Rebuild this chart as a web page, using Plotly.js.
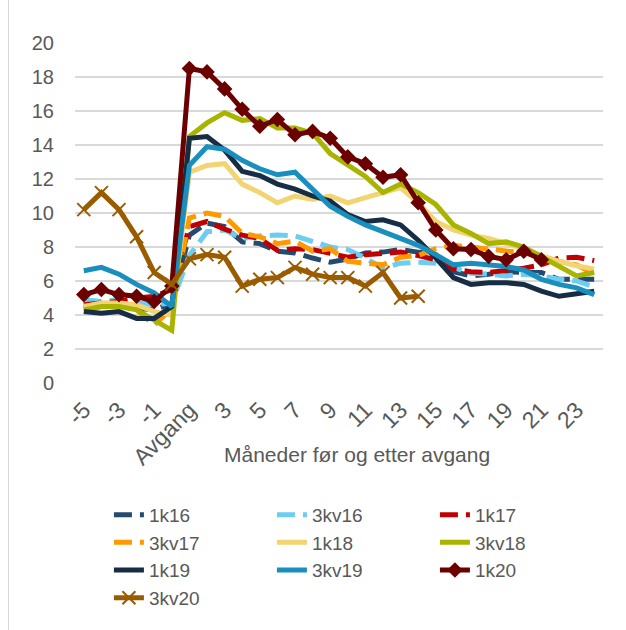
<!DOCTYPE html>
<html>
<head>
<meta charset="utf-8">
<script src="https://cdn.plot.ly/plotly-3.0.1.min.js"></script>
<style>
  html, body { margin: 0; padding: 0; background: #ffffff; }
  #frame { position: absolute; left: 8px; top: -2px; width: 626px; height: 640px; border-left: 1px solid #d9d9d9; }
  #chart { position: absolute; left: 0; top: 0; width: 626px; height: 630px; }
</style>
</head>
<body>
<div id="frame"></div>
<div id="chart"></div>
<script>
// Categories: months before and after departure ("Avgang")
const months = ["-5","-4","-3","-2","-1","0","Avgang","2","3","4","5","6","7","8","9","10",
                "11","12","13","14","15","16","17","18","19","20","21","22","23","24"];
const tickLabels = ["-5","-3","-1","Avgang","3","5","7","9","11","13","15","17","19","21","23"];

const seriesNames = ["1k16","3kv16","1k17","3kv17","1k18","3kv18","1k19","3kv19","1k20","3kv20"];

const k1_16  = [4.4,4.5,4.6,4.4,4.3,4.7, 8.7,9.4,9.2,8.3,8.2,7.75,7.65,7.35,7.1,7.3,7.65,7.7,7.85,7.7,7.55, 6.55,6.3,6.4,6.55,6.5,6.5,6.1,6.1,6.1];
const kv3_16 = [4.9,4.8,4.9,4.7,4.6,4.7, 7.5,8.9,9.0,8.5,8.65,8.7,8.65,8.3,8.0,7.85,7.35,6.75,7.05,7.1,7.05, 6.8,6.45,6.4,6.3,6.4,6.3,6.1,6.0,5.65];
const k1_17  = [4.6,4.7,4.8,5.0,5.1,5.5, 9.2,9.5,9.05,8.7,8.5,7.8,7.9,7.85,7.65,7.4,7.55,7.65,7.7,7.5,7.25, 6.7,6.55,6.5,6.6,6.75,6.95,7.35,7.4,7.2];
const kv3_17 = [4.5,4.6,4.6,4.3,3.4,4.4, 9.7,10.0,9.8,8.8,8.6,8.2,8.35,7.75,7.9,7.15,7.05,6.95,7.4,7.5,7.9, 8.1,8.0,7.9,7.8,7.65,7.45,7.15,6.95,6.4];
const k1_18  = [4.5,4.7,4.7,4.6,4.2,4.0, 12.4,12.8,12.9,11.7,11.2,10.6,11.0,10.8,11.0,10.6,10.9,11.2,11.5,10.6,9.5, 9.0,8.7,8.5,8.2,7.9,7.5,7.15,6.9,6.7];
const kv3_18 = [4.3,4.5,4.5,4.3,3.7,3.1, 14.5,15.3,15.9,15.45,15.55,15.0,15.0,14.7,13.5,12.85,12.15,11.2,11.7,11.2,10.5, 9.3,8.8,8.2,8.3,8.0,7.45,6.9,6.3,6.5];
const k1_19  = [4.2,4.1,4.2,3.8,3.8,4.5, 14.4,14.5,13.7,12.45,12.2,11.7,11.4,11.0,10.7,9.9,9.5,9.6,9.3,8.4,7.35, 6.2,5.8,5.9,5.9,5.8,5.4,5.1,5.25,5.4];
const kv3_19 = [6.6,6.8,6.4,5.8,5.3,4.5, 12.8,13.9,13.75,13.1,12.6,12.25,12.4,11.4,10.4,9.8,9.3,8.9,8.5,8.1,7.55, 6.95,7.05,6.95,6.85,6.65,6.1,5.8,5.6,5.2];
const k1_20  = [5.2,5.5,5.2,5.1,4.8,5.7, 18.5,18.3,17.3,16.1,15.1,15.5,14.6,14.8,14.4,13.3,12.9,12.1,12.25,10.6,9.0, 7.9,7.85,7.45,7.25,7.75,7.25];
const kv3_20 = [10.2,11.2,10.2,8.6,6.5,5.8, 7.3,7.55,7.4,5.7,6.1,6.2,6.8,6.4,6.2,6.2,5.7,6.5,5.0,5.1];

const values = [k1_16, kv3_16, k1_17, kv3_17, k1_18, kv3_18, k1_19, kv3_19, k1_20, kv3_20];
const colors = ["#264a6e","#6ccdf0","#c00000","#ff9900","#f2d472","#a8b400","#162d45","#1a8fbd","#6b0000","#9a5c00"];
const dashes = ["18px,8px","18px,8px","18px,8px","18px,8px","solid","solid","solid","solid","solid","solid"];

const traces = seriesNames.map((name, i) => {
  const t = {
    type: "scatter",
    mode: "lines",
    name: name,
    x: months.slice(0, values[i].length),
    y: values[i],
    line: { color: colors[i], width: 5, dash: dashes[i] },
    hoverinfo: "x+y+name"
  };
  if (name === "1k20") {
    t.mode = "lines+markers";
    t.marker = { symbol: "diamond", size: 12, color: colors[i] };
  }
  if (name === "3kv20") {
    t.mode = "lines+markers";
    t.marker = { symbol: "x-thin", size: 13, color: colors[i], line: { color: colors[i], width: 2 } };
  }
  return t;
});

const font = "'Liberation Sans', Arial, sans-serif";

const layout = {
  width: 626,
  height: 630,
  paper_bgcolor: "rgba(0,0,0,0)",
  plot_bgcolor: "rgba(0,0,0,0)",
  margin: { l: 75, r: 23, t: 43, b: 247, pad: 0, autoexpand: false },
  font: { family: font, color: "#595959", size: 20 },
  showlegend: true,
  xaxis: {
    type: "category",
    categoryorder: "array",
    categoryarray: months,
    tickmode: "array",
    tickvals: tickLabels,
    ticktext: tickLabels,
    tickangle: -45,
    tickfont: { size: 23, color: "#595959", family: font },
    ticklabelstandoff: 8,
    showgrid: false,
    showline: false,
    zeroline: false,
    ticks: "",
    ticklen: 0,
    range: [-0.5, 29.5],
    automargin: false,
    fixedrange: true
  },
  yaxis: {
    range: [0, 20],
    dtick: 2,
    tick0: 0,
    showgrid: true,
    gridcolor: "#d9d9d9",
    gridwidth: 1.5,
    zeroline: false,
    showline: false,
    ticks: "",
    ticklabelstandoff: 20,
    tickfont: { size: 20, color: "#595959", family: font },
    automargin: false,
    fixedrange: true
  },
  legend: {
    orientation: "h",
    xref: "container",
    yref: "container",
    x: 0.174,
    xanchor: "left",
    y: 0.213,
    yanchor: "top",
    entrywidth: 118,
    entrywidthmode: "pixels",
    font: { size: 19, color: "#595959", family: font },
    tracegroupgap: 0,
    itemwidth: 30,
    traceorder: "normal",
    bgcolor: "rgba(0,0,0,0)"
  },
  annotations: [{
    text: "Måneder før og etter avgang",
    xref: "paper", yref: "paper",
    x: 0.534, y: -0.21,
    xanchor: "center", yanchor: "middle",
    showarrow: false,
    font: { size: 21, color: "#595959", family: font }
  }]
};

Plotly.newPlot("chart", traces, layout, { displayModeBar: false, staticPlot: true });
</script>
</body>
</html>
